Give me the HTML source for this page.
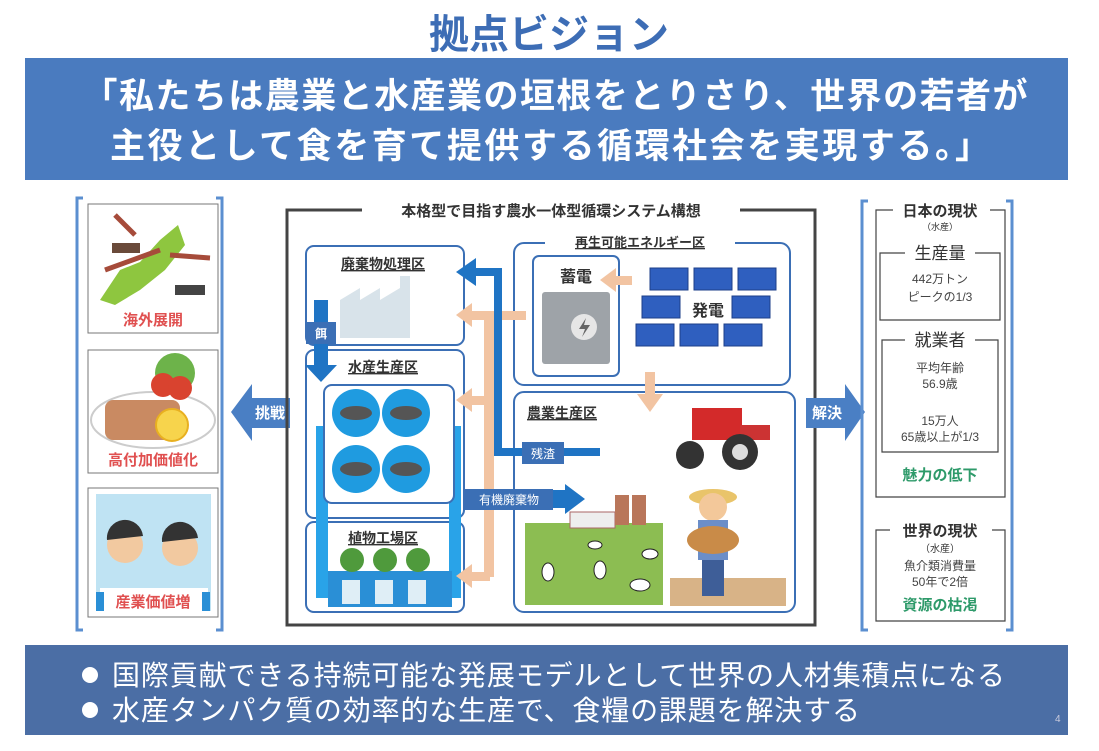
<!DOCTYPE html>
<html><head><meta charset="utf-8"><style>
html,body{margin:0;padding:0;background:#fff;}
svg{display:block;font-family:"Liberation Sans","Noto Sans CJK JP",sans-serif;}
</style></head><body>
<svg width="1099" height="751" viewBox="0 0 1099 751" xmlns="http://www.w3.org/2000/svg">
<rect width="1099" height="751" fill="#fff"/>
<text x="549" y="48" font-size="40" font-weight="bold" fill="#3d6db5" text-anchor="middle" font-family="Noto Sans CJK JP, sans-serif">拠点ビジョン</text>
<rect x="25" y="58" width="1043" height="122" fill="#4a7bbf"/>
<text x="555" y="108" font-size="35" font-weight="bold" fill="#fff" text-anchor="middle" textLength="945" font-family="Noto Sans CJK JP, sans-serif">「私たちは農業と水産業の垣根をとりさり、世界の若者が</text>
<text x="550" y="158" font-size="35" font-weight="bold" fill="#fff" text-anchor="middle" textLength="880" font-family="Noto Sans CJK JP, sans-serif">主役として食を育て提供する循環社会を実現する。」</text>

<path d="M83 198 H77 V630 H83 M216 198 H222 V630 H216" fill="none" stroke="#5b8fd0" stroke-width="3"/>
<rect x="88" y="204" width="130" height="129" fill="#fff" stroke="#777" stroke-width="1"/>
<path d="M100 300 L120 270 L140 262 L160 240 L178 225 L185 245 L165 270 L140 290 L115 305 Z" fill="#8ec63f"/>
<path d="M135 235 L115 215 M160 250 L105 270 M170 255 L210 258" stroke="#a64b3a" stroke-width="5" fill="none"/>
<rect x="112" y="243" width="28" height="10" fill="#6a4a3a"/><rect x="175" y="285" width="30" height="10" fill="#444"/>
<text x="153" y="325" font-size="15" font-weight="bold" fill="#e05050" text-anchor="middle">海外展開</text>
<rect x="88" y="350" width="130" height="123" fill="#fff" stroke="#777" stroke-width="1"/>
<ellipse cx="153" cy="420" rx="62" ry="28" fill="none" stroke="#ccc" stroke-width="2"/>
<rect x="105" y="400" width="75" height="40" rx="8" fill="#c98a62"/>
<circle cx="175" cy="373" r="20" fill="#6db34a"/><circle cx="163" cy="385" r="12" fill="#d9432f"/><circle cx="180" cy="388" r="12" fill="#d9432f"/>
<circle cx="172" cy="425" r="16" fill="#f7d44c" stroke="#e8b020" stroke-width="2"/>
<text x="153" y="465" font-size="15" font-weight="bold" fill="#e05050" text-anchor="middle">高付加価値化</text>
<rect x="88" y="488" width="130" height="129" fill="#fff" stroke="#777" stroke-width="1"/>
<rect x="96" y="494" width="115" height="117" fill="#bfe3f3"/>
<circle cx="125" cy="545" r="18" fill="#f2c9a0"/><circle cx="180" cy="548" r="18" fill="#f2c9a0"/>
<path d="M107 540 a18 18 0 0 1 36 -4" fill="#333"/><path d="M162 542 a18 18 0 0 1 36 -4" fill="#333"/>
<rect x="100" y="588" width="108" height="23" fill="#fff"/>
<rect x="96" y="592" width="8" height="19" fill="#2a8fd6"/><rect x="202" y="592" width="8" height="19" fill="#2a8fd6"/>
<text x="153" y="607" font-size="15" font-weight="bold" fill="#e05050" text-anchor="middle">産業価値増</text>

<path d="M231 412 L252 384 L252 398 L290 398 L290 428 L252 428 L252 441 Z" fill="#4a7fc4"/>
<text x="270" y="418" font-size="15" font-weight="bold" fill="#fff" text-anchor="middle">挑戦</text>

<rect x="287" y="210" width="528" height="415" fill="none" stroke="#444" stroke-width="3"/>
<rect x="362" y="200" width="378" height="20" fill="#fff"/>
<text x="551" y="216" font-size="15" font-weight="bold" fill="#333" text-anchor="middle">本格型で目指す農水一体型循環システム構想</text>

<path d="M865 412 L845 384 L845 398 L806 398 L806 428 L845 428 L845 441 Z" fill="#4a7fc4"/>
<text x="827" y="418" font-size="15" font-weight="bold" fill="#fff" text-anchor="middle">解決</text>

<rect x="306" y="246" width="158" height="99" rx="8" fill="#fff" stroke="#3b6fb5" stroke-width="2"/>
<text x="383" y="269" font-size="14" font-weight="bold" fill="#333" text-anchor="middle" text-decoration="underline">廃棄物処理区</text>
<path d="M340 338 V300 L360 288 V300 L380 288 V300 L400 288 V276 H410 V338 Z" fill="#d8e3ea"/>
<rect x="306" y="350" width="158" height="168" rx="8" fill="#fff" stroke="#3b6fb5" stroke-width="2"/>
<text x="383" y="372" font-size="14" font-weight="bold" fill="#333" text-anchor="middle" text-decoration="underline">水産生産区</text>
<rect x="306" y="522" width="158" height="90" rx="8" fill="#fff" stroke="#3b6fb5" stroke-width="2"/>
<text x="383" y="543" font-size="14" font-weight="bold" fill="#333" text-anchor="middle" text-decoration="underline">植物工場区</text>
<path d="M322 432 V592 H455 V432 Z M322 432 H455" fill="none" stroke="#29a3e8" stroke-width="12"/>
<rect x="324" y="385" width="130" height="118" rx="8" fill="#fff" stroke="#3b6fb5" stroke-width="2"/>
<circle cx="356" cy="413" r="24" fill="#1f9be0"/><circle cx="406" cy="413" r="24" fill="#1f9be0"/>
<circle cx="356" cy="469" r="24" fill="#1f9be0"/><circle cx="406" cy="469" r="24" fill="#1f9be0"/>
<g fill="#555"><ellipse cx="356" cy="413" rx="16" ry="7"/><ellipse cx="406" cy="413" rx="16" ry="7"/><ellipse cx="356" cy="469" rx="16" ry="7"/><ellipse cx="406" cy="469" rx="16" ry="7"/></g>
<rect x="328" y="571" width="124" height="36" fill="#2a8fd6"/>
<g fill="#dfeef6"><rect x="342" y="580" width="18" height="24"/><rect x="375" y="580" width="18" height="24"/><rect x="408" y="580" width="18" height="24"/></g>
<g fill="#4f9a3c"><circle cx="352" cy="560" r="12"/><circle cx="385" cy="560" r="12"/><circle cx="418" cy="560" r="12"/></g>

<path d="M314 300 H328 V365 H337 L321 382 L305 365 H314 Z" fill="#1f74c4"/>
<rect x="306" y="322" width="30" height="22" fill="#3b6fb5"/>
<text x="321" y="338" font-size="12" font-weight="bold" fill="#fff" text-anchor="middle">餌</text>

<!-- renewable box -->
<rect x="514" y="243" width="276" height="142" rx="10" fill="#fff" stroke="#3b6fb5" stroke-width="2"/>
<rect x="545" y="234" width="190" height="18" fill="#fff"/>
<text x="640" y="247" font-size="13" font-weight="bold" fill="#333" text-anchor="middle" text-decoration="underline">再生可能エネルギー区</text>
<rect x="533" y="256" width="86" height="120" rx="6" fill="#fff" stroke="#3b6fb5" stroke-width="2"/>
<text x="576" y="282" font-size="16" font-weight="bold" fill="#333" text-anchor="middle">蓄電</text>
<rect x="542" y="292" width="68" height="72" rx="3" fill="#9ea3a8"/>
<circle cx="584" cy="327" r="13" fill="#e6e6e6"/>
<path d="M586 318 L579 329 H585 L582 337 L590 325 H584 Z" fill="#666"/>
<g fill="#2f5fbf" stroke="#1d3f88" stroke-width="1">
<rect x="650" y="268" width="38" height="22"/><rect x="694" y="268" width="38" height="22"/><rect x="738" y="268" width="38" height="22"/>
<rect x="642" y="296" width="38" height="22"/><rect x="732" y="296" width="38" height="22"/>
<rect x="636" y="324" width="38" height="22"/><rect x="680" y="324" width="38" height="22"/><rect x="724" y="324" width="38" height="22"/>
</g>
<rect x="688" y="296" width="40" height="26" fill="#fff"/>
<text x="708" y="316" font-size="16" font-weight="bold" fill="#333" text-anchor="middle">発電</text>

<!-- agri box -->
<rect x="514" y="392" width="281" height="220" rx="10" fill="#fff" stroke="#3b6fb5" stroke-width="2"/>
<text x="562" y="418" font-size="14" font-weight="bold" fill="#333" text-anchor="middle" text-decoration="underline">農業生産区</text>
<rect x="525" y="523" width="138" height="82" fill="#8cbd52"/>
<rect x="570" y="512" width="45" height="16" fill="#eee" stroke="#a66" stroke-width="1"/>
<rect x="615" y="495" width="14" height="30" fill="#b9765a"/><rect x="632" y="495" width="14" height="30" fill="#b9765a"/>
<g fill="#fff" stroke="#222" stroke-width="1"><ellipse cx="548" cy="572" rx="6" ry="9"/><ellipse cx="600" cy="570" rx="6" ry="9"/><ellipse cx="640" cy="585" rx="10" ry="6"/><ellipse cx="650" cy="554" rx="8" ry="5"/><ellipse cx="595" cy="545" rx="7" ry="4"/></g>
<rect x="670" y="578" width="116" height="28" fill="#d8b387"/>
<rect x="692" y="408" width="50" height="32" fill="#d32a2a"/>
<rect x="740" y="425" width="30" height="15" fill="#c33"/>
<circle cx="690" cy="455" r="14" fill="#333"/><circle cx="740" cy="452" r="18" fill="#333"/>
<circle cx="740" cy="452" r="8" fill="#ddd"/>
<ellipse cx="713" cy="497" rx="24" ry="8" fill="#e9c46a"/>
<circle cx="713" cy="507" r="14" fill="#f3c89a"/>
<rect x="698" y="520" width="30" height="40" fill="#6b8ec8"/>
<ellipse cx="713" cy="540" rx="26" ry="14" fill="#c98b48"/>
<rect x="702" y="560" width="22" height="36" fill="#3e5e98"/>

<!-- peach arrows -->
<g fill="#f2c4a2">
<rect x="484" y="315" width="10" height="262"/>
<rect x="470" y="311" width="56" height="9"/><path d="M456 315 L472 303 L472 327 Z"/>
<rect x="470" y="396" width="20" height="9"/><path d="M456 400 L472 388 L472 412 Z"/>
<rect x="470" y="572" width="20" height="9"/><path d="M456 576 L472 564 L472 588 Z"/>
<rect x="614" y="276" width="18" height="9"/><path d="M600 280 L616 268 L616 292 Z"/>
<rect x="645" y="372" width="10" height="24"/><path d="M637 394 L663 394 L650 412 Z"/>
</g>
<!-- blue residue arrow -->
<path d="M600 452 H498 V272 H474" fill="none" stroke="#1f74c4" stroke-width="8"/>
<path d="M456 272 L476 258 L476 286 Z" fill="#1f74c4"/>
<rect x="522" y="442" width="42" height="22" fill="#3b6fb5"/>
<text x="543" y="458" font-size="12" fill="#fff" text-anchor="middle">残渣</text>
<!-- organic waste arrow -->
<path d="M465 490 H565 V484 L585 499 L565 514 V508 H465 Z" fill="#1f74c4"/>
<rect x="465" y="489" width="88" height="21" fill="#3b6fb5"/>
<text x="509" y="504" font-size="12" fill="#fff" text-anchor="middle">有機廃棄物</text>

<!-- right bracket -->
<path d="M868 201 H862 V630 H868 M1006 201 H1012 V630 H1006" fill="none" stroke="#5b8fd0" stroke-width="3"/>
<path d="M893 210 H876 V497 H1005 V210 H990" fill="none" stroke="#444" stroke-width="1.2"/>
<text x="940" y="216" font-size="15" font-weight="bold" fill="#333" text-anchor="middle">日本の現状</text>
<text x="940" y="230" font-size="9" fill="#333" text-anchor="middle">（水産）</text>
<path d="M905 253 H880 V320 H1000 V253 H975" fill="none" stroke="#444" stroke-width="1.2"/>
<text x="940" y="259" font-size="17" fill="#333" text-anchor="middle">生産量</text>
<text x="940" y="283" font-size="12" fill="#444" text-anchor="middle">442万トン</text>
<text x="940" y="301" font-size="12" fill="#444" text-anchor="middle">ピークの1/3</text>
<path d="M905 340 H882 V452 H998 V340 H975" fill="none" stroke="#444" stroke-width="1.2"/>
<text x="940" y="346" font-size="17" fill="#333" text-anchor="middle">就業者</text>
<text x="940" y="372" font-size="12" fill="#444" text-anchor="middle">平均年齢</text>
<text x="940" y="388" font-size="12" fill="#444" text-anchor="middle">56.9歳</text>
<text x="940" y="425" font-size="12" fill="#444" text-anchor="middle">15万人</text>
<text x="940" y="441" font-size="12" fill="#444" text-anchor="middle">65歳以上が1/3</text>
<text x="940" y="480" font-size="15" font-weight="bold" fill="#2e9a6a" text-anchor="middle">魅力の低下</text>
<path d="M890 530 H876 V621 H1005 V530 H992" fill="none" stroke="#444" stroke-width="1.2"/>
<text x="940" y="536" font-size="15" font-weight="bold" fill="#333" text-anchor="middle">世界の現状</text>
<text x="940" y="552" font-size="10" fill="#333" text-anchor="middle">（水産）</text>
<text x="940" y="570" font-size="12" fill="#444" text-anchor="middle">魚介類消費量</text>
<text x="940" y="586" font-size="12" fill="#444" text-anchor="middle">50年で2倍</text>
<text x="940" y="610" font-size="15" font-weight="bold" fill="#2e9a6a" text-anchor="middle">資源の枯渇</text>

<rect x="25" y="645" width="1043" height="90" fill="#4b6ea5"/>
<circle cx="90" cy="675" r="8" fill="#fff"/><circle cx="90" cy="710" r="8" fill="#fff"/>
<text x="112" y="685" font-size="28" fill="#fff" textLength="893" font-family="Noto Sans CJK JP, sans-serif">国際貢献できる持続可能な発展モデルとして世界の人材集積点になる</text>
<text x="112" y="720" font-size="28" fill="#fff" textLength="748" font-family="Noto Sans CJK JP, sans-serif">水産タンパク質の効率的な生産で、食糧の課題を解決する</text>
<text x="1055" y="722" font-size="10" fill="#ccd">4</text>
</svg>
</body></html>
